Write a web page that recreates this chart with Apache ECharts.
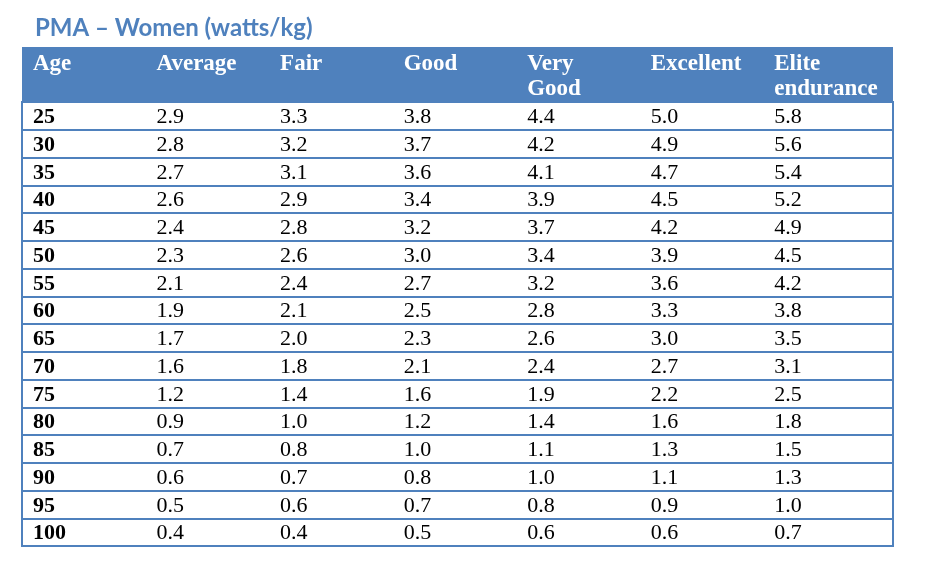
<!DOCTYPE html>
<html>
<head>
<meta charset="utf-8">
<script src="https://cdn.jsdelivr.net/npm/echarts@6/dist/echarts.min.js"></script>
<style>
  html, body { margin: 0; padding: 0; background: #fff; }
  #chart { width: 928px; height: 565px; }
</style>
</head>
<body>
<div id="chart"></div>
<script>
const headers = ['Age', 'Average', 'Fair', 'Good', 'Very\nGood', 'Excellent', 'Elite\nendurance']
const ages = ['25', '30', '35', '40', '45', '50', '55', '60', '65', '70', '75', '80', '85', '90', '95', '100']
const average = ['2.9', '2.8', '2.7', '2.6', '2.4', '2.3', '2.1', '1.9', '1.7', '1.6', '1.2', '0.9', '0.7', '0.6', '0.5', '0.4']
const fair = ['3.3', '3.2', '3.1', '2.9', '2.8', '2.6', '2.4', '2.1', '2.0', '1.8', '1.4', '1.0', '0.8', '0.7', '0.6', '0.4']
const good = ['3.8', '3.7', '3.6', '3.4', '3.2', '3.0', '2.7', '2.5', '2.3', '2.1', '1.6', '1.2', '1.0', '0.8', '0.7', '0.5']
const veryGood = ['4.4', '4.2', '4.1', '3.9', '3.7', '3.4', '3.2', '2.8', '2.6', '2.4', '1.9', '1.4', '1.1', '1.0', '0.8', '0.6']
const excellent = ['5.0', '4.9', '4.7', '4.5', '4.2', '3.9', '3.6', '3.3', '3.0', '2.7', '2.2', '1.6', '1.3', '1.1', '0.9', '0.6']
const elite = ['5.8', '5.6', '5.4', '5.2', '4.9', '4.5', '4.2', '3.8', '3.5', '3.1', '2.5', '1.8', '1.5', '1.3', '1.0', '0.7']

const blue = '#4F81BD'
const columns = [ages, average, fair, good, veryGood, excellent, elite]

// one cell per (column, row)
const cells = []
columns.forEach((col, ci) => {
    col.forEach((txt, ri) => {
        cells.push({value: [ci, ri], text: txt, bold: ci === 0})
    })
})

const chart = echarts.init(document.getElementById('chart'))

const xAxisBase = {type: 'value', min: 0, max: 7.05, show: false}

chart.setOption({
    animation: false,
    title: {
        text: 'PMA \u2013 Women (watts/kg)',
        left: 30,
        top: 11,
        textStyle: {fontFamily: 'Lato', fontWeight: 'bold', fontSize: 24, color: blue}
    },
    grid: [
        {left: 22, top: 47, width: 871, height: 55, show: true, backgroundColor: blue, borderWidth: 0},
        {left: 22, top: 102, width: 871, height: 444, show: true, borderColor: blue, borderWidth: 2}
    ],
    xAxis: [
        Object.assign({gridIndex: 0}, xAxisBase),
        Object.assign({gridIndex: 1}, xAxisBase)
    ],
    yAxis: [
        {gridIndex: 0, type: 'category', data: ['header'], show: false},
        {
            gridIndex: 1, type: 'category', data: ages, inverse: true,
            axisLine: {show: false}, axisTick: {show: false}, axisLabel: {show: false},
            splitLine: {show: true, interval: 0, lineStyle: {color: blue, width: 2}}
        }
    ],
    series: [
        {
            type: 'custom',
            xAxisIndex: 0,
            yAxisIndex: 0,
            data: headers.map((h, i) => [i, 0]),
            renderItem: (params, api) => {
                const p = api.coord([api.value(0), 0])
                const h = api.size([0, 1])[1]
                return {
                    type: 'text',
                    x: p[0] + 11,
                    y: p[1] - h / 2 + 5,
                    style: {
                        text: headers[params.dataIndex],
                        fill: '#fff',
                        font: 'bold 23px "Liberation Serif"',
                        align: 'left',
                        verticalAlign: 'top',
                        lineHeight: 25
                    }
                }
            }
        },
        {
            type: 'custom',
            xAxisIndex: 1,
            yAxisIndex: 1,
            data: cells.map(c => c.value),
            renderItem: (params, api) => {
                const c = cells[params.dataIndex]
                const p = api.coord([api.value(0), api.value(1)])
                return {
                    type: 'text',
                    x: p[0] + 11,
                    y: p[1] + 1.5,
                    style: {
                        text: c.text,
                        fill: '#000',
                        font: (c.bold ? 'bold ' : '') + '22px "Liberation Serif"',
                        align: 'left',
                        verticalAlign: 'middle'
                    }
                }
            }
        }
    ]
})
</script>
</body>
</html>
